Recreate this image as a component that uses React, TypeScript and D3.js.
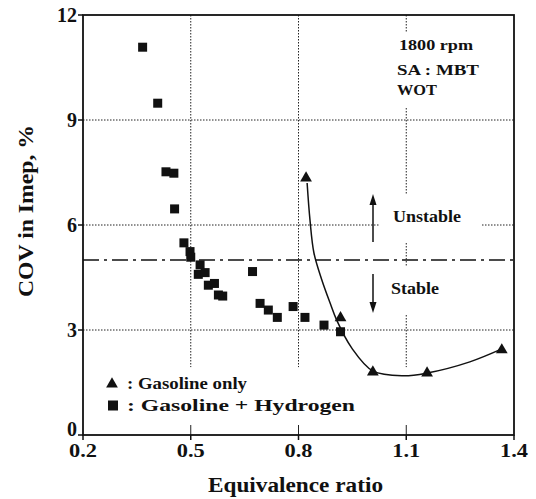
import React from 'react';
import * as d3 from 'd3';

// Gasoline only (triangles)
const gasPhi = [0.821, 0.917, 1.007, 1.158, 1.366];
const gasCov = [7.34, 3.35, 1.8, 1.77, 2.43];

// fitted curve through gasoline-only points
const fitPhi = [0.824, 0.832, 0.843, 0.865, 0.888, 0.906, 0.948, 1.007, 1.091, 1.158, 1.277, 1.366];
const fitCov = [7.2, 6.14, 5.2, 4.43, 3.77, 3.29, 2.49, 1.83, 1.69, 1.77, 2.09, 2.46];

// Gasoline + Hydrogen (squares)
const h2Phi = [0.366, 0.408, 0.431, 0.453, 0.455, 0.481, 0.498, 0.5, 0.526, 0.521, 0.54, 0.549, 0.566, 0.577, 0.589, 0.672, 0.693, 0.716, 0.741, 0.785, 0.818, 0.871, 0.917];
const h2Cov = [11.08, 9.48, 7.52, 7.48, 6.46, 5.49, 5.24, 5.08, 4.86, 4.59, 4.64, 4.28, 4.33, 4.0, 3.97, 4.67, 3.76, 3.57, 3.36, 3.67, 3.36, 3.14, 2.95];

const xTicks = [0.2, 0.5, 0.8, 1.1, 1.4];
const yTicks = [0, 3, 6, 9, 12];
const stableLimit = 5;

const W = 536;
const H = 499;
const serif = 'Liberation Serif, DejaVu Serif, serif';

export default function App() {
  const x = d3.scaleLinear().domain([0.2, 1.4]).range([83, 514]);
  const y = d3.scaleLinear().domain([0, 12]).range([435, 15]);

  const fitLine = d3
    .line<number>()
    .x((_, i) => x(fitPhi[i]))
    .y((_, i) => y(fitCov[i]))
    .curve(d3.curveCatmullRom.alpha(0.5));

  const tri = d3.symbol().type(d3.symbolTriangle).size(60)() || '';
  const dotted = '1.5,1.5';

  return (
    <svg width={W} height={H} style={{ position: 'absolute', left: 0, top: 0, background: '#fff' }}>
      {/* grid */}
      <g stroke="#222" strokeWidth={1} strokeDasharray={dotted}>
        {xTicks.slice(1, -1).map((t) => (
          <g key={'gx' + t}>
            <line x1={x(t)} x2={x(t)} y1={y(12)} y2={y(1.94)} />
            <line x1={x(t)} x2={x(t)} y1={y(0)} y2={y(0) - 10} strokeDasharray="none" />
          </g>
        ))}
        {yTicks.slice(1, -1).map((t) => (
          <line key={'gy' + t} x1={x(0.2)} x2={x(1.4)} y1={y(t)} y2={y(t)} />
        ))}
      </g>

      {/* white patches behind labels (breaks grid like original) */}
      <g fill="#fff">
        <rect x={392} y={33} width={93} height={75} />
        <rect x={380} y={195} width={102} height={47} />
        <rect x={385} y={267} width={58} height={48} />
      </g>

      {/* stable / unstable boundary */}
      <line
        x1={x(0.2)}
        x2={x(1.4)}
        y1={y(stableLimit)}
        y2={y(stableLimit)}
        stroke="#111"
        strokeWidth={1.4}
        strokeDasharray="16,5,3,5"
      />

      {/* frame */}
      <rect x={x(0.2)} y={y(12)} width={x(1.4) - x(0.2)} height={y(0) - y(12)} fill="none" stroke="#111" strokeWidth={1.8} />

      {/* ticks */}
      <g stroke="#111" strokeWidth={1.5}>
        {xTicks.map((t) => (
          <line key={'tx' + t} x1={x(t)} x2={x(t)} y1={y(0)} y2={y(0) + 5} />
        ))}
        {yTicks.map((t) => (
          <line key={'ty' + t} x1={x(0.2) - 5} x2={x(0.2)} y1={y(t)} y2={y(t)} />
        ))}
      </g>

      {/* tick labels */}
      <g fontFamily={serif} fontWeight="bold" fill="#111">
        {xTicks.map((t) => (
          <text key={'lx' + t} x={x(t)} y={457} fontSize={18} textAnchor="middle" textLength={28} lengthAdjust="spacingAndGlyphs">
            {t.toFixed(1)}
          </text>
        ))}
        {yTicks.map((t) => (
          <text key={'ly' + t} x={77} y={y(t) - (t === 0 ? 6 : 0)} dy="0.34em" fontSize={20} textAnchor="end">
            {t}
          </text>
        ))}
      </g>

      {/* axis titles */}
      <text x={208} y={492} fontFamily={serif} fontWeight="bold" fontSize={20} textLength={175} lengthAdjust="spacingAndGlyphs" fill="#111">
        Equivalence ratio
      </text>
      <text
        transform="translate(33,211) rotate(-90)"
        textAnchor="middle"
        fontFamily={serif}
        fontWeight="bold"
        fontSize={20}
        textLength={172}
        lengthAdjust="spacingAndGlyphs"
        fill="#111"
      >
        COV in Imep, %
      </text>

      {/* fitted curve */}
      <path d={fitLine(fitPhi) || ''} fill="none" stroke="#111" strokeWidth={1.5} />

      {/* squares */}
      <g fill="#111">
        {h2Phi.map((p, i) => (
          <rect key={'s' + i} x={x(p) - 4.5} y={y(h2Cov[i]) - 4.5} width={9} height={9} />
        ))}
      </g>

      {/* triangles */}
      <g fill="#111">
        {gasPhi.map((p, i) => (
          <path key={'t' + i} d={tri} transform={`translate(${x(p)},${y(gasCov[i])})`} />
        ))}
      </g>

      {/* annotations */}
      <g fontFamily={serif} fontWeight="bold" fill="#111">
        <text x={399} y={50} fontSize={14} textLength={74} lengthAdjust="spacingAndGlyphs">1800 rpm</text>
        <text x={397} y={75} fontSize={15} textLength={82} lengthAdjust="spacingAndGlyphs">SA : MBT</text>
        <text x={397} y={95} fontSize={15} textLength={40} lengthAdjust="spacingAndGlyphs">WOT</text>
        <text x={393} y={222} fontSize={17} textLength={68} lengthAdjust="spacingAndGlyphs">Unstable</text>
        <text x={391} y={294} fontSize={17} textLength={48} lengthAdjust="spacingAndGlyphs">Stable</text>
      </g>

      {/* arrows */}
      <g stroke="#111" strokeWidth={1.5} fill="#111">
        <line x1={373} x2={373} y1={242} y2={202} />
        <path d="M373,194 L369.5,205 L376.5,205 Z" stroke="none" />
        <line x1={373} x2={373} y1={274} y2={305} />
        <path d="M373,313 L369.5,302 L376.5,302 Z" stroke="none" />
      </g>

      {/* legend */}
      <g fontFamily={serif} fontWeight="bold" fontSize={16} fill="#111">
        <path d={tri} transform="translate(112,384)" />
        <text x={127} y={389} textLength={120} lengthAdjust="spacingAndGlyphs">: Gasoline only</text>
        <rect x={108} y={400.5} width={10} height={10} />
        <text x={127} y={411} textLength={228} lengthAdjust="spacingAndGlyphs">: Gasoline + Hydrogen</text>
      </g>
    </svg>
  );
}
